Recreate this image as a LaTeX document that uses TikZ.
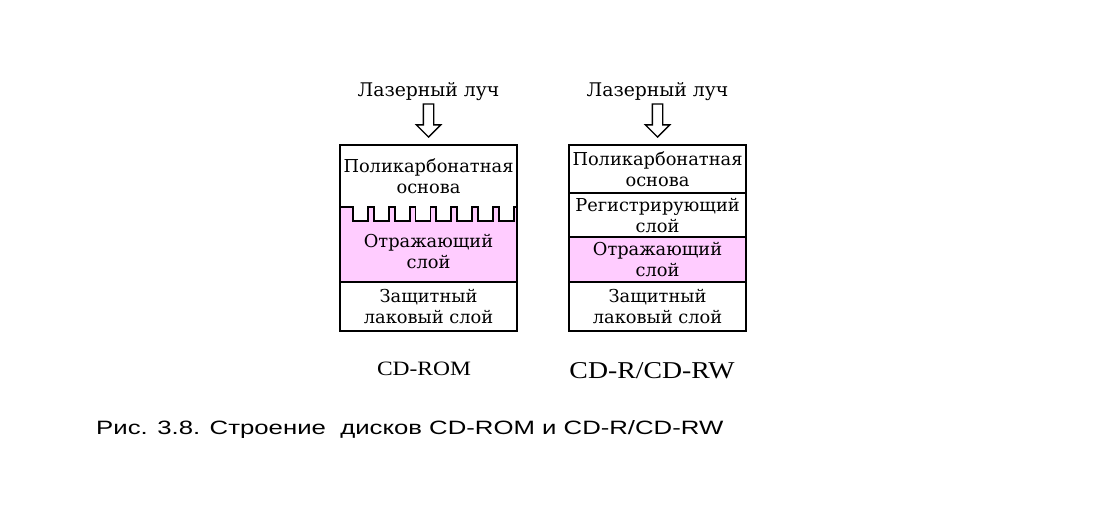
\documentclass[tikz,border=0pt]{standalone}
\usepackage{graphicx}
\usepackage{fontspec}
\setmainfont{DejaVu Serif}
\newfontfamily\labelfont{Liberation Serif}
\newfontfamily\capfont{Liberation Sans}
\usetikzlibrary{positioning,shapes.arrows}
\definecolor{reflpink}{HTML}{FFCCFF}
\tikzset{layer/.style={rectangle,inner sep=0pt,outer sep=0pt,minimum width=177pt,align=center,font=\fontsize{17.8}{21}\selectfont}}
\tikzset{frame/.style={line width=1.8pt}}
\tikzset{beam/.style={single arrow,draw,line width=1.4pt,shape border rotate=270,inner sep=4.5pt,minimum height=33pt,minimum width=23pt,single arrow head extend=7pt}}
\tikzset{laser/.style={inner sep=0pt,font=\fontsize{18.8}{21}\selectfont}}
\def\sized#1#2#3{\resizebox{#1}{#2}{#3}}

\begin{document}
\begin{tikzpicture}[x=1pt,y=1pt]
        \useasboundingbox (0,0) rectangle (1102,515);
        % CD-ROM
        \node(rpoly)[layer,minimum height=62pt] at (428.5,339) {Поликарбонатная\\основа};
        \node(rrefl)[layer,minimum height=61pt,fill=reflpink,below=14pt of rpoly] {Отражающий\\слой};
        \node(rlac)[layer,minimum height=49pt,below=0pt of rrefl] {Защитный\\лаковый слой};
        \fill[reflpink] (rpoly.south west) rectangle (rrefl.north east);
        \draw[frame,fill=white] (rpoly.south west) -- ++(7.2,0)
          \foreach \i in {1,...,8} { -- ++(5.8,0) -- ++(0,-14) -- ++(15,0) -- ++(0,14) }
          -- (rpoly.south east);
        \draw[frame] (rpoly.north west) rectangle (rlac.south east);
        \draw[frame] (rlac.north west) -- (rlac.north east);
        \node(rbeam)[beam,above=7pt of rpoly,anchor=tip] {};
        \node(rlaser)[laser,above=2pt of rbeam.tail] {Лазерный луч};
        \node(rname)[anchor=base] at (424,140) {\sized{94pt}{13.5pt}{\labelfont CD-ROM}};
        % CD-R/CD-RW
        \node(wpoly)[layer,minimum height=48pt] at (657.5,346) {Поликарбонатная\\основа};
        \node(wreg)[layer,minimum height=44pt,below=0pt of wpoly] {Регистрирующий\\слой};
        \node(wrefl)[layer,minimum height=45pt,fill=reflpink,below=0pt of wreg] {Отражающий\\слой};
        \node(wlac)[layer,minimum height=49pt,below=0pt of wrefl] {Защитный\\лаковый слой};
        \draw[frame] (wpoly.north west) rectangle (wlac.south east);
        \draw[frame] (wreg.north west) -- (wreg.north east)
          (wrefl.north west) -- (wrefl.north east)
          (wlac.north west) -- (wlac.north east);
        \node(wbeam)[beam,above=7pt of wpoly,anchor=tip] {};
        \node(wlaser)[laser,above=2pt of wbeam.tail] {Лазерный луч};
        \node(wname)[anchor=base] at (652,137) {\sized{165pt}{16pt}{\labelfont CD-R/CD-RW}};
        % caption
        \node(caption)[anchor=base west,inner sep=0pt] at (96,81)
          {\sized{627pt}{14pt}{\capfont Рис. 3.8. Строение~ дисков CD-ROM и CD-R/CD-RW}};
      \end{tikzpicture}
\end{document}
